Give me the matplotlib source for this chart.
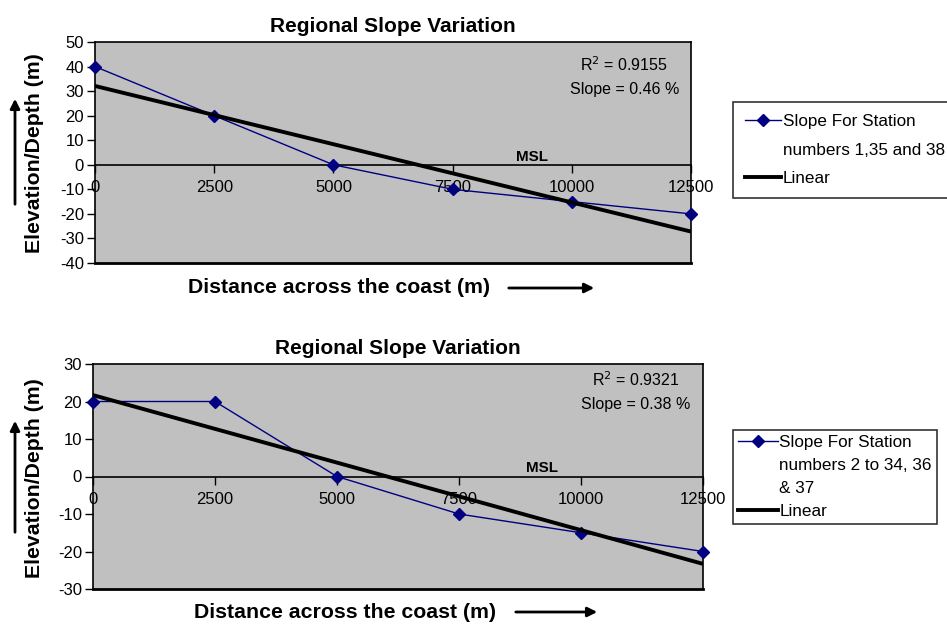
import matplotlib
matplotlib.use('Agg')
import matplotlib.pyplot as plt
from matplotlib.lines import Line2D
from matplotlib.patches import FancyArrowPatch

plt.rcParams['font.family'] = ['Liberation Sans', 'DejaVu Sans']
plt.rcParams['axes.unicode_minus'] = False

# distances across the coast (m)
distance = [0, 2500, 5000, 7500, 10000, 12500]

# top chart: stations 1, 35 and 38
elev_top = [40, 20, 0, -10, -15, -20]
trend_top = [32.1, -27.2]   # linear trendline at 0 and 12500 m
r2_top = '0.9155'
slope_top = '0.46 %'
label_top = ['Slope For Station', 'numbers 1,35 and 38']

# bottom chart: stations 2 to 34, 36 & 37
elev_bot = [20, 20, 0, -10, -15, -20]
trend_bot = [21.7, -23.3]
r2_bot = '0.9321'
slope_bot = '0.38 %'
label_bot = ['Slope For Station', 'numbers 2 to 34, 36', '& 37']

W, H = 947, 625
fig = plt.figure(figsize=(9.47, 6.25), dpi=100)


def px(x, y):
    # pixel -> figure fraction
    return x / W, 1 - y / H


def panel(rect, elev, trend, ylim, yticks, r2, slope, label, stats_xy, msl_x,
          leg_xy, leg_space, leg_pad, leg_hlen, xlab_xy, xarrow, ylab_xy, yarrow):
    ax = fig.add_axes(rect)
    ax.set_facecolor('#c0c0c0')
    l1, = ax.plot(distance, elev, '-', color='#000080', lw=1.0, marker='D',
                  ms=6, mfc='#000080', mec='#000080', zorder=3, clip_on=False)
    l2, = ax.plot([distance[0], distance[-1]], trend, '-', color='black', lw=2.8,
                  zorder=4)
    ax.set_xlim(0, 12500)
    ax.set_ylim(*ylim)
    ax.set_yticks(yticks)
    ax.set_xticks(distance)
    ax.spines['bottom'].set_position(('data', 0))
    for s in ['left', 'right', 'top', 'bottom']:
        ax.spines[s].set_linewidth(1.2)
    # box edge at the bottom of the plot area
    ax.axhline(ylim[0], color='black', lw=2.0, clip_on=False)
    ax.tick_params(axis='x', direction='out', length=6, pad=5, labelsize=12,
                   width=1.0)
    ax.tick_params(axis='y', direction='out', length=6, pad=2, labelsize=12,
                   width=1.0)
    ax.set_title('Regional Slope Variation', fontsize=15, fontweight='bold', pad=7)

    ax.text(stats_xy[0], stats_xy[1], 'R$^{2}$ = ' + r2, transform=ax.transAxes,
            ha='center', va='center', fontsize=11.5)
    ax.text(stats_xy[0], stats_xy[1] - 0.11, 'Slope = ' + slope,
            transform=ax.transAxes, ha='center', va='center', fontsize=11.5)
    ax.text(msl_x, 0.4, 'MSL', ha='center', va='bottom', fontsize=11,
            fontweight='bold')

    blank = Line2D([], [], linestyle='none')
    handles = [l1] + [blank] * (len(label) - 1) + [l2]
    labels = label + ['Linear']
    leg = ax.legend(handles, labels, loc='upper left', bbox_to_anchor=px(*leg_xy),
                    bbox_transform=fig.transFigure, fontsize=12.3,
                    frameon=True, fancybox=False, edgecolor='black',
                    handlelength=leg_hlen, handletextpad=0.1,
                    borderpad=leg_pad, labelspacing=leg_space, borderaxespad=0)
    leg.get_frame().set_linewidth(1.2)

    # axis titles with arrows
    fig.text(*px(*xlab_xy), 'Distance across the coast (m)', ha='center',
             va='center', fontsize=15.3, fontweight='bold')
    fig.add_artist(FancyArrowPatch(
        px(xarrow[0], xarrow[2]), px(xarrow[1], xarrow[2]),
        transform=fig.transFigure, arrowstyle='-|>', mutation_scale=14,
        lw=2.0, color='black'))
    fig.text(*px(*ylab_xy), 'Elevation/Depth (m)', ha='center', va='center',
             rotation=90, fontsize=15.3, fontweight='bold')
    fig.add_artist(FancyArrowPatch(
        px(yarrow[0], yarrow[1]), px(yarrow[0], yarrow[2]),
        transform=fig.transFigure, arrowstyle='-|>', mutation_scale=14,
        lw=2.0, color='black'))
    return ax


panel([95 / W, 1 - 263 / H, 596 / W, 221 / H], elev_top, trend_top,
      (-40, 50), range(-40, 51, 10), r2_top, slope_top, label_top,
      (0.888, 0.896), 9165, (733, 102), 0.8, 0.7, 2.1,
      (339, 287), (506, 597, 288), (35, 153), (15, 207, 96))

panel([93 / W, 1 - 589 / H, 610 / W, 225 / H], elev_bot, trend_bot,
      (-30, 30), range(-30, 31, 10), r2_bot, slope_bot, label_bot,
      (0.89, 0.929), 9200, (733, 430), 0.45, 0.32, 2.3,
      (345, 612), (513, 600, 612), (35, 478), (15, 535, 418))

fig.savefig('out.png', dpi=100)
